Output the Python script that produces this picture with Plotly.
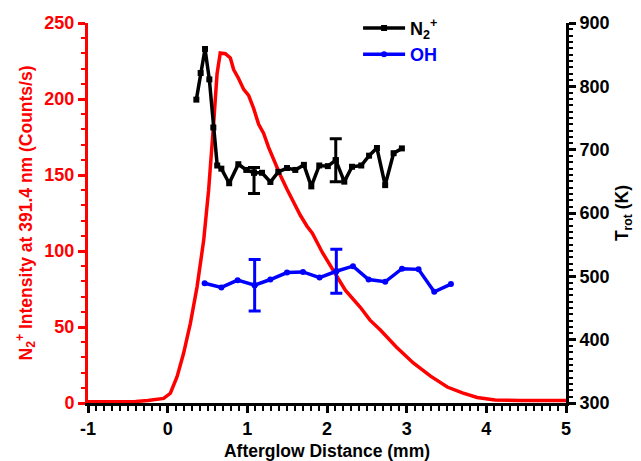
import plotly.graph_objects as go

# Red curve: N2+ intensity (left axis)
dist_I = [-1.0, -0.8, -0.6, -0.4, -0.25, -0.05, 0.034, 0.118, 0.2, 0.285, 0.369, 0.452, 0.514, 0.577,
          0.62, 0.66, 0.724, 0.787, 0.828, 0.89, 0.954, 1.016, 1.079, 1.142, 1.205, 1.267, 1.33,
          1.414, 1.498, 1.581, 1.665, 1.749, 1.816, 1.94, 2.08, 2.23, 2.418, 2.54, 2.67, 2.87,
          3.083, 3.3, 3.51, 3.7, 3.885, 4.11, 4.42, 4.74, 5.0]
intensity = [0.8, 0.6, 0.8, 1.0, 1.6, 3.0, 6.4, 17.3, 32.7, 52.4, 76.4, 107, 140, 183.8,
             216.6, 230.3, 229.8, 227, 219.4, 213.5, 206.3, 202.4, 193.8, 183.3, 177.4, 168.2, 159.7,
             149.8, 140.6, 132, 123.5, 116.3, 111.7, 99.2, 87.4, 74.2, 63, 54.5, 48, 36.8,
             26.3, 17.7, 10.5, 6.6, 3.6, 2.0, 1.6, 1.5, 1.7]

# N2+ rotational temperature (right axis)
dist_N2 = [0.36, 0.414, 0.469, 0.523, 0.573, 0.622, 0.674, 0.772, 0.887, 0.987, 1.084, 1.184,
           1.289, 1.389, 1.498, 1.602, 1.71, 1.803, 1.903, 2.01, 2.11, 2.217, 2.314, 2.43,
           2.528, 2.627, 2.73, 2.836, 2.94]
T_N2 = [779, 821, 859, 811, 735, 675, 670, 647, 677, 668, 663.7, 663.5,
        649, 665, 671, 668, 676, 642, 675, 674, 683.4, 649.5, 673, 675,
        690.5, 702.6, 644, 694.4, 702]
# error bars (N2+)
errN2_x = [1.084, 2.11]
errN2_y = [663.7, 683.4]
errN2_plus = [8.2, 34]
errN2_minus = [32.8, 34]

# OH rotational temperature (right axis)
dist_OH = [0.464, 0.674, 0.878, 1.092, 1.289, 1.498, 1.699, 1.907, 2.117, 2.326, 2.522,
           2.731, 2.941, 3.149, 3.346, 3.556]
T_OH = [489, 482.5, 494, 486, 495, 506, 507, 498, 508, 516, 495, 491.4, 512, 511, 475.6, 487.7]
errOH_x = [1.092, 2.117]
errOH_y = [486, 508]
errOH = [40.7, 34.7]

# tick labels
x_ticks = [-1, 0, 1, 2, 3, 4, 5]
x_ticklabels = ["-1", "0", "1", "2", "3", "4", "5"]

RED = "#ff0000"
BLUE = "#0000ff"
FONT = "Liberation Sans"
TS = 18  # tick font size
LS = 17.5  # title font size

fig = go.Figure()

fig.add_trace(go.Scatter(x=dist_I, y=intensity, mode="lines", line=dict(color=RED, width=3.5),
                         showlegend=False, yaxis="y"))

fig.add_trace(go.Scatter(x=dist_N2, y=T_N2, mode="lines+markers", name="<b>N<sub>2</sub><sup>+</sup></b>",
                         line=dict(color="black", width=3.5),
                         marker=dict(symbol="square", size=6, color="black"), yaxis="y2"))
fig.add_trace(go.Scatter(x=errN2_x, y=errN2_y, mode="markers", showlegend=False,
                         marker=dict(symbol="square", size=6, color="black"),
                         error_y=dict(type="data", symmetric=False, array=errN2_plus,
                                      arrayminus=errN2_minus, color="black", thickness=3, width=6),
                         yaxis="y2"))

fig.add_trace(go.Scatter(x=dist_OH, y=T_OH, mode="lines+markers",
                         name="<b><span style='color:#0000ff'>OH</span></b>",
                         line=dict(color=BLUE, width=3.5),
                         marker=dict(symbol="circle", size=6, color=BLUE), yaxis="y2"))
fig.add_trace(go.Scatter(x=errOH_x, y=errOH_y, mode="markers", showlegend=False,
                         marker=dict(symbol="circle", size=6, color=BLUE),
                         error_y=dict(type="data", array=errOH, color=BLUE, thickness=3, width=6),
                         yaxis="y2"))

fig.update_layout(
    width=641, height=461,
    margin=dict(l=88, r=75, t=23, b=58, autoexpand=False),
    plot_bgcolor="white", paper_bgcolor="white",
    font=dict(family=FONT, size=16, color="black"),
    showlegend=True,
    legend=dict(x=0.565, y=1.035, xanchor="left", yanchor="top", bgcolor="rgba(0,0,0,0)",
                font=dict(family=FONT, size=18), tracegroupgap=0, itemwidth=42),
    xaxis=dict(range=[-1, 5], tickmode="array", tickvals=x_ticks, ticktext=x_ticklabels,
               automargin=False,
               ticks="outside", ticklen=7, tickwidth=3, tickcolor="black",
               showline=True, linewidth=3, linecolor="black", showgrid=False, zeroline=False,
               tickfont=dict(family=FONT, size=TS, color="black", weight="bold"),
               minor=dict(dtick=0.1, tick0=-1, ticks="outside", ticklen=5, tickwidth=2, tickcolor="black"),
               title=dict(text="<b>Afterglow Distance (mm)</b>", font=dict(size=LS), standoff=10)),
    yaxis=dict(range=[0, 250], tickmode="linear", tick0=0, dtick=50, automargin=False,
               ticks="outside", ticklen=7, tickwidth=3, tickcolor=RED,
               showline=True, linewidth=3, linecolor=RED, showgrid=False, zeroline=False,
               tickfont=dict(family=FONT, size=TS, color=RED, weight="bold"),
               minor=dict(dtick=10, ticks="outside", ticklen=4, tickwidth=2, tickcolor=RED),
               title=dict(text="<b>N<sub>2</sub><sup>+</sup> Intensity at 391.4 nm (Counts/s)</b>",
                          font=dict(size=LS, color=RED), standoff=8)),
    yaxis2=dict(range=[300, 900], tickmode="linear", tick0=300, dtick=100, overlaying="y", side="right",
                automargin=False,
                ticks="outside", ticklen=7, tickwidth=3, tickcolor="black",
                showline=True, linewidth=3, linecolor="black", showgrid=False, zeroline=False,
                tickfont=dict(family=FONT, size=TS, color="black", weight="bold"),
                minor=dict(dtick=10, ticks="outside", ticklen=4, tickwidth=2, tickcolor="black"),
                title=dict(text="<b>T<sub>rot</sub> (K)</b>", font=dict(size=LS), standoff=8)),
)

fig.write_html("out.html")
